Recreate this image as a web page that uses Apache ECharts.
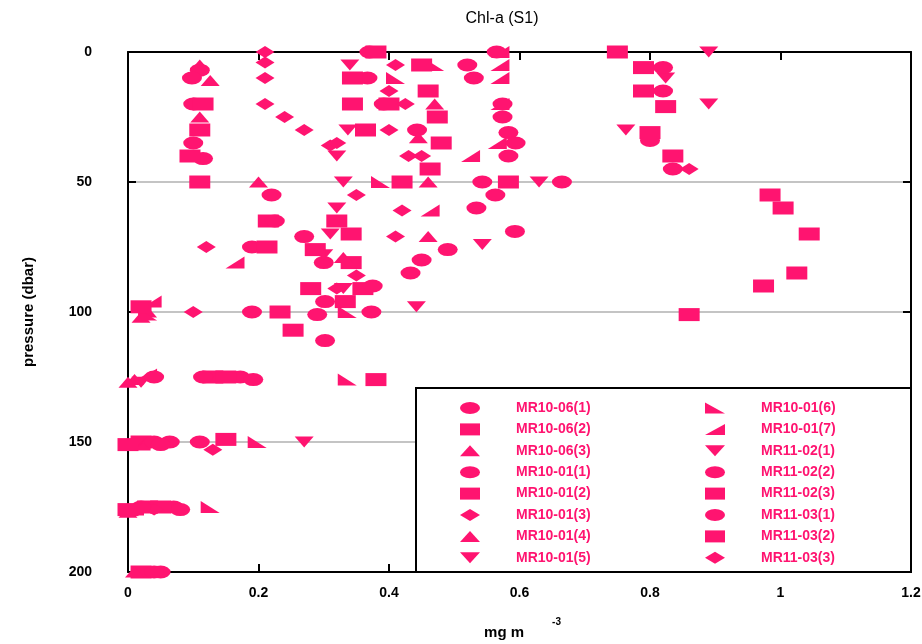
<!DOCTYPE html>
<html>
<head>
<meta charset="utf-8">
<script src="https://cdn.jsdelivr.net/npm/echarts@6/dist/echarts.min.js"></script>
<style>
  html, body { margin: 0; padding: 0; background: #fff; }
  #main { width: 922px; height: 644px; }
</style>
</head>
<body>
<div id="main"></div>
<script>
// each profile: [chl-a (mg m-3), pressure (dbar)]
var mr1006_1 = [[0.11,7],[0.098,10],[0.10,20],[0.10,35],[0.115,41],[0.22,55],[0.19,75],[0.19,100],[0.172,125],[0.064,150],[0.07,175],[0.05,200]];
var mr1006_2 = [[0.115,20],[0.11,30],[0.095,40],[0.11,50],[0.215,65],[0.213,75],[0.233,100],[0.253,107],[0.13,125],[0.02,150],[0.03,175],[0.02,200]];
var mr1006_3 = [[0.11,5],[0.126,11],[0.11,25],[0.20,50],[0.46,71],[0.03,100],[0.01,126],[0.03,150],[0.01,200]];
var mr1001_1 = [[0.37,0],[0.367,10],[0.392,20],[0.443,30],[0.225,65],[0.27,71],[0.30,81],[0.302,96],[0.29,101],[0.302,111],[0.192,126],[0.11,150],[0.08,176]];
var mr1001_2 = [[0.38,0],[0.344,10],[0.344,20],[0.364,30],[0.32,65],[0.342,70],[0.342,81],[0.28,91],[0.36,91],[0.333,96],[0.38,126],[0.15,149],[0.05,175]];
var mr1001_3 = [[0.21,0],[0.21,4],[0.21,10],[0.21,20],[0.24,25],[0.27,30],[0.31,36],[0.12,75],[0.10,100],[0.035,125],[0.13,153],[0.04,176]];
var mr1001_4 = [[0.47,20],[0.445,33],[0.46,50],[0.33,79],[0.02,102],[0.0,127],[0.0,177]];
var mr1001_5 = [[0.34,5],[0.337,30],[0.32,40],[0.33,50],[0.32,60],[0.31,70],[0.30,78],[0.33,91],[0.02,127],[0.01,151],[0.0,176]];
var mr1001_6 = [[0.47,5],[0.41,10],[0.387,50],[0.336,100],[0.336,126],[0.198,150],[0.126,175],[0.03,101]];
var mr1001_7 = [[0.57,0],[0.57,5],[0.57,10],[0.57,20],[0.566,35],[0.525,40],[0.463,61],[0.164,81],[0.037,96],[0.03,124],[0.02,151],[0.01,176]];
var mr1102_1 = [[0.89,0],[0.824,10],[0.89,20],[0.763,30],[0.63,50],[0.543,74],[0.442,98],[0.27,150]];
var mr1102_2 = [[0.82,6],[0.82,15],[0.80,34],[0.835,45],[0.665,50],[0.593,69],[0.49,76],[0.45,80],[0.433,85],[0.373,100],[0.115,125],[0.04,150],[0.04,200]];
var mr1102_3 = [[0.75,0],[0.79,6],[0.79,15],[0.824,21],[0.80,31],[0.835,40],[0.984,55],[1.004,60],[1.044,70],[1.025,85],[0.974,90],[0.86,101]];
var mr1103_1 = [[0.565,0],[0.52,5],[0.53,10],[0.574,20],[0.574,25],[0.583,31],[0.594,35],[0.583,40],[0.543,50],[0.563,55],[0.534,60],[0.375,90],[0.04,125],[0.05,151],[0.02,175]];
var mr1103_2 = [[0.45,5],[0.46,15],[0.40,20],[0.474,25],[0.48,35],[0.463,45],[0.42,50],[0.583,50],[0.287,76],[0.02,98],[0.15,125],[0.0,151],[0.0,176]];
var mr1103_3 = [[0.41,5],[0.40,15],[0.425,20],[0.40,30],[0.32,35],[0.43,40],[0.45,40],[0.86,45],[0.35,55],[0.42,61],[0.41,71],[0.35,86],[0.32,91]];

var xTicks = [0, 0.2, 0.4, 0.6, 0.8, 1, 1.2];
var yTicks = [0, 50, 100, 150, 200];

var pink = '#ff1470';
var font = 'Liberation Sans, Arial';
var ellipse = 'path://M0,6 A10,6 0 1,1 20,6 A10,6 0 1,1 0,6 Z';
var triUp = 'path://M10,0 L20,11 L0,11 Z';
var triDown = 'path://M0,0 L20,0 L10,11 Z';
var wedgeL = 'path://M0,0 L0,11 L20,11 Z';
var wedgeR = 'path://M20,0 L20,11 L0,11 Z';

var defs = [
  ['MR10-06(1)', mr1006_1, ellipse, [20, 13]],
  ['MR10-06(2)', mr1006_2, 'rect', [21, 13]],
  ['MR10-06(3)', mr1006_3, triUp, [19, 11]],
  ['MR10-01(1)', mr1001_1, ellipse, [20, 13]],
  ['MR10-01(2)', mr1001_2, 'rect', [21, 13]],
  ['MR10-01(3)', mr1001_3, 'diamond', [19, 12]],
  ['MR10-01(4)', mr1001_4, triUp, [19, 11]],
  ['MR10-01(5)', mr1001_5, triDown, [19, 11]],
  ['MR10-01(6)', mr1001_6, wedgeL, [19, 12]],
  ['MR10-01(7)', mr1001_7, wedgeR, [19, 12]],
  ['MR11-02(1)', mr1102_1, triDown, [19, 11]],
  ['MR11-02(2)', mr1102_2, ellipse, [20, 13]],
  ['MR11-02(3)', mr1102_3, 'rect', [21, 13]],
  ['MR11-03(1)', mr1103_1, ellipse, [20, 13]],
  ['MR11-03(2)', mr1103_2, 'rect', [21, 13]],
  ['MR11-03(3)', mr1103_3, 'diamond', [19, 12]]
];

var series = defs.map(function (d) {
  return {
    name: d[0],
    type: 'scatter',
    data: d[1],
    symbol: d[2],
    symbolSize: d[3],
    itemStyle: { color: pink, opacity: 1 },
    xAxisIndex: 0,
    yAxisIndex: 0
  };
});

var names = defs.map(function (d) { return d[0]; });

var legendBase = {
  orient: 'vertical',
  top: 396,
  itemWidth: 20,
  itemHeight: 12,
  itemGap: 7.4,
  z: 20,
  textStyle: {
    color: pink,
    fontFamily: font,
    fontWeight: 'bold',
    fontSize: 14,
    padding: [0, 0, 0, 31]
  },
  selectedMode: false
};

var tickLabel = { fontFamily: font, fontWeight: 'bold', fontSize: 14, color: '#000' };
var frame = { onZero: false, lineStyle: { color: '#000', width: 2 } };
var tick = { inside: true, length: 8, lineStyle: { color: '#000', width: 2 } };

var myChart = echarts.init(document.getElementById('main'));
var option = {
  animation: false,
  backgroundColor: '#fff',
  title: {
    text: 'Chl-a (S1)',
    left: 497,
    textAlign: 'center',
    top: 6,
    textStyle: { fontFamily: font, fontWeight: 'normal', fontSize: 16, color: '#000' }
  },
  grid: { left: 128, right: 11, top: 52, bottom: 72, containLabel: false, outerBoundsMode: 'none' },
  legend: [
    Object.assign({}, legendBase, { left: 455, data: names.slice(0, 8) }),
    Object.assign({}, legendBase, { left: 700, data: names.slice(8) })
  ],
  xAxis: [{
    type: 'value',
    position: 'bottom',
    min: 0, max: 1.2, interval: 0.2,
    name: 'mg m{sup|-3}',
    nameLocation: 'middle',
    nameGap: 45,
    nameTextStyle: {
      fontFamily: font, fontWeight: 'bold', fontSize: 15, color: '#000',
      padding: [0, 0, 0, 6],
      rich: { sup: { fontSize: 10, fontWeight: 'bold', fontFamily: font, color: '#000', padding: [0, 0, 22, 28] } }
    },
    axisLine: frame,
    axisTick: tick,
    axisLabel: Object.assign({ margin: 14, formatter: function (v) { return String(+v.toFixed(1)); } }, tickLabel),
    splitLine: { show: false }
  }, {
    type: 'value',
    position: 'top',
    min: 0, max: 1.2, interval: 0.2,
    axisLine: frame,
    axisTick: tick,
    axisLabel: { show: false },
    splitLine: { show: false }
  }],
  yAxis: [{
    type: 'value',
    position: 'left',
    inverse: true,
    min: 0, max: 200, interval: 50,
    name: 'pressure (dbar)',
    nameLocation: 'middle',
    nameGap: 92,
    nameRotate: 90,
    nameTextStyle: { fontFamily: font, fontWeight: 'bold', fontSize: 15, color: '#000' },
    axisLine: frame,
    axisTick: tick,
    axisLabel: Object.assign({ margin: 36 }, tickLabel),
    splitLine: { show: true, lineStyle: { color: '#c4c4c4', width: 2 } }
  }, {
    type: 'value',
    position: 'right',
    inverse: true,
    min: 0, max: 200, interval: 50,
    axisLine: frame,
    axisTick: tick,
    axisLabel: { show: false },
    splitLine: { show: false }
  }],
  graphic: [{
    type: 'rect',
    z: 15,
    shape: { x: 416, y: 388, width: 495, height: 184 },
    style: { fill: '#fff', stroke: '#000', lineWidth: 2 }
  }],
  series: series
};
myChart.setOption(option);
</script>
</body>
</html>
